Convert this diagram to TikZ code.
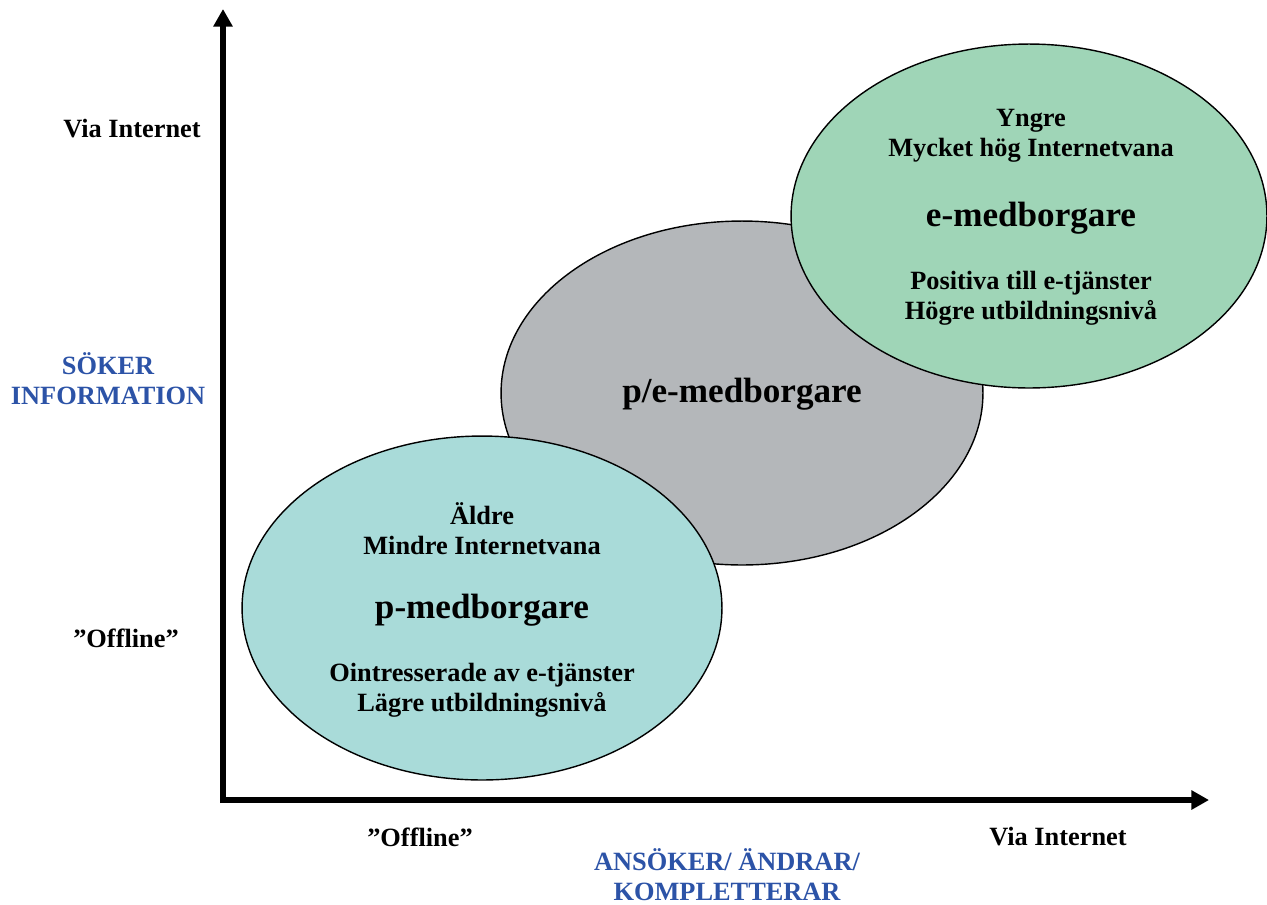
\documentclass[tikz,border=0pt]{standalone}
\usepackage{fontspec}
\setmainfont{Liberation Serif}
\usetikzlibrary{arrows.meta,shapes.geometric}
\definecolor{egreen}{HTML}{9FD5B7}
\definecolor{pegray}{HTML}{B4B7BA}
\definecolor{pteal}{HTML}{A9DBD9}
\definecolor{axblue}{HTML}{2C53A7}
\tikzset{
  blob/.style={ellipse, draw=black, line width=0.8pt, inner sep=0pt},
  axis/.style={line width=3.4pt, -{Triangle[length=10pt,width=10.5pt]}},
  lab/.style={font=\bfseries\fontsize{15}{17}\selectfont, align=center, inner sep=0pt},
  bluelab/.style={lab, text=axblue},
  big/.style={font=\bfseries\fontsize{20}{24}\selectfont, inner sep=0pt},
}
\begin{document}
\begin{tikzpicture}[x=0.02cm,y=-0.02cm]
\useasboundingbox (0,0) rectangle (1267,904);
% ellipses
\node[blob, fill=pegray, minimum width=9.64cm, minimum height=6.88cm] (pe) at (742,393) {};
\node[blob, fill=egreen, minimum width=9.52cm, minimum height=6.88cm] (e) at (1029,216) {};
\node[blob, fill=pteal, minimum width=9.6cm, minimum height=6.88cm] (p) at (482,608) {};
% axes
\coordinate (origin) at (223,800);
\coordinate (ytip) at (223,9);
\coordinate (xtip) at (1209,800);
\coordinate (ybot) at (223,803);
\coordinate (xstart) at (220,800);
\draw[axis] (ybot) -- (ytip);
\draw[axis] (xstart) -- (xtip);
% texts in ellipses
\node[big] (pet) at (742,394) {p/e-medborgare};
\node[lab] (e1) at (1031,136) {Yngre\\Mycket hög Internetvana};
\node[big] (et) at (1031,218) {e-medborgare};
\node[lab] (e2) at (1031,298) {Positiva till e-tjänster\\Högre utbildningsnivå};
\node[lab] (p1) at (482,529) {Äldre\\Mindre Internetvana};
\node[big] (pt) at (482,610) {p-medborgare};
\node[lab] (p2) at (482,690) {Ointresserade av e-tjänster\\Lägre utbildningsnivå};
% axis labels
\node[lab] (yhi) at (132,129) {Via Internet};
\node[lab] (ylo) at (126,638) {”Offline”};
\node[bluelab] (ytitle) at (108,379) {SÖKER\\INFORMATION};
\node[lab] (xlo) at (420,837) {”Offline”};
\node[lab] (xhi) at (1058,837) {Via Internet};
\node[bluelab] (xtitle) at (727,875) {ANSÖKER/ ÄNDRAR/\\KOMPLETTERAR};
\end{tikzpicture}
\end{document}
